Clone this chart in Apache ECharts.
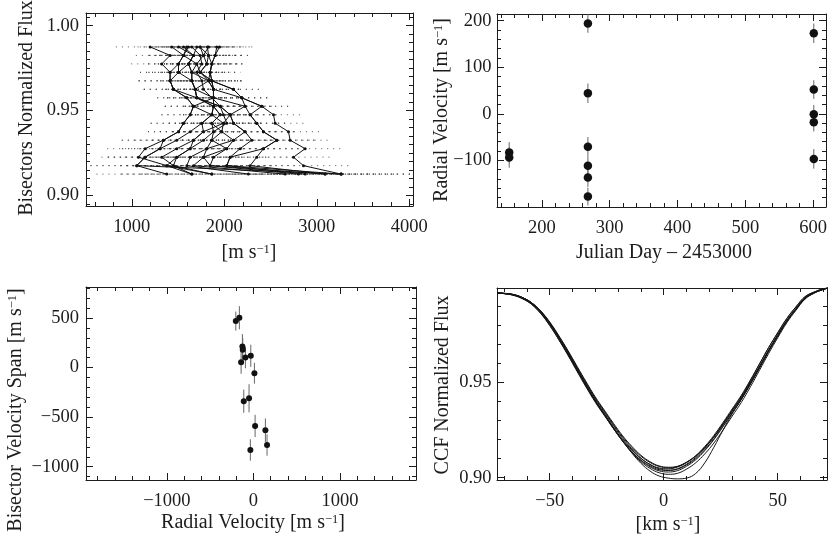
<!DOCTYPE html>
<html><head><meta charset="utf-8">
<script src="https://cdn.jsdelivr.net/npm/echarts@6/dist/echarts.min.js"></script>
<style>html,body{margin:0;padding:0;background:#fff}#c{width:830px;height:544px}</style>
</head><body><div id="c"></div>
<script>
// ---------------- DATA ----------------
// Panel 1: line bisectors (flux levels, top -> bottom) and velocity positions [m/s]
const bisFlux = [0.9875,0.9825,0.9775,0.9725,0.9675,0.9625,0.9575,0.9525,0.9475,0.9425,0.9375,0.9325,0.9275,0.9225,0.9175,0.9125];
const bisErr  = [370,370,330,325,340,320,320,310,310,355,330,450,410,400,500,760];
const bis01 = [1948,1901,1865,1847,1865,2099,2189,2405,2532,2550,2694,2712,2874,2748,2856,3263];
const bis02 = [1818,1829,1811,1739,1829,1883,1883,2225,2279,2351,2423,2568,2423,2351,2279,3090];
const bis03 = [1739,1775,1703,1649,1649,1685,1703,1955,2063,2099,2225,2297,2171,2063,2027,2874];
const bis04 = [1703,1667,1613,1505,1414,1450,1595,1667,1865,1991,1973,2099,2027,1883,1847,2802];
const bis05 = [1595,1559,1505,1414,1414,1450,1703,1883,1955,1865,1883,1865,1811,1775,1667,2658];
const bis06 = [1919,1901,1865,1847,1829,1883,1883,1883,1865,1757,1631,1486,1306,1144,1054,1378];
const bis07 = [1829,1775,1811,1739,1865,1883,1883,1667,1631,1559,1505,1342,1144,1072,1378,1649];
const bis08 = [1505,1667,1613,1649,1829,1685,1703,1955,2063,1991,1775,1667,1486,1324,1450,1865];
const bis09 = [1432,1559,1703,1739,1865,2099,2189,2225,2063,2099,2225,2099,1811,1631,1595,2261];
const bis10 = [1198,1414,1324,1414,1414,1450,1595,1667,1631,1559,1505,1342,1306,1144,1054,3263];
const bis11 = [1739,1829,1865,1847,1865,1883,2189,2405,2279,2351,2423,2568,2423,2063,2027,3263];
const bis12 = [1559,1667,1613,1649,1649,1685,1883,1883,1955,1865,1973,1865,2027,1775,1847,3090];
const bis13 = [1613,1559,1505,1505,1649,1685,1703,1883,1865,1757,1775,1667,1631,1486,1378,1865];
const bis14 = [1649,1739,1757,1703,1757,1775,1865,1955,1991,2027,1883,1775,1631,1486,1450,1649];

// Panel 2: radial velocities
const rvDay = [152,152,268,268,268,268,268,268,601,601,601,601,601];
const rvVal = [-83,-94,194,44,-71,-112,-137,-178,173,52,-1,-18,-97];
const rvErr = [22,22,20,21,21,20,20,19,21,20,20,20,21];

// Panel 3: bisector velocity span vs radial velocity
const bvsRv  = [-203,-162,-127,-123,-92,-142,-30,12,-111,-50,20,139,158,-35];
const bvsVal = [468,502,212,179,101,54,118,-57,-340,-310,-589,-633,-781,-831];
const bvsErr = [96,117,125,117,108,117,112,105,117,142,112,120,108,108];

// Panel 4: cross-correlation functions
const ccfVel = [-73,-70,-66,-62,-58,-54,-50,-46,-42,-38,-34,-30,-26,-22,-18,-14,-10,-6,-2,2,6,10,14,18,22,26,30,34,38,42,46,50,54,58,62,66,70,72];
const ccf01 = [0.9970,0.9967,0.9960,0.9943,0.9915,0.9869,0.9807,0.9732,0.9651,0.9566,0.9481,0.9401,0.9330,0.9259,0.9193,0.9137,0.9090,0.9057,0.9036,0.9030,0.9037,0.9060,0.9094,0.9142,0.9200,0.9268,0.9340,0.9412,0.9494,0.9580,0.9667,0.9748,0.9825,0.9888,0.9944,0.9972,0.9990,0.9996];
const ccf02 = [0.9970,0.9967,0.9958,0.9941,0.9911,0.9864,0.9801,0.9726,0.9646,0.9563,0.9479,0.9402,0.9333,0.9263,0.9199,0.9146,0.9101,0.9070,0.9051,0.9047,0.9056,0.9080,0.9115,0.9164,0.9222,0.9290,0.9361,0.9432,0.9513,0.9598,0.9683,0.9762,0.9837,0.9897,0.9951,0.9975,0.9992,0.9996];
const ccf03 = [0.9970,0.9968,0.9962,0.9946,0.9919,0.9874,0.9813,0.9739,0.9657,0.9571,0.9485,0.9403,0.9331,0.9258,0.9191,0.9133,0.9084,0.9049,0.9026,0.9018,0.9023,0.9045,0.9078,0.9125,0.9182,0.9250,0.9323,0.9395,0.9477,0.9564,0.9652,0.9735,0.9814,0.9879,0.9938,0.9969,0.9988,0.9995];
const ccf04 = [0.9970,0.9968,0.9962,0.9946,0.9919,0.9876,0.9818,0.9746,0.9668,0.9585,0.9503,0.9424,0.9354,0.9285,0.9220,0.9165,0.9118,0.9084,0.9062,0.9055,0.9060,0.9082,0.9114,0.9159,0.9214,0.9279,0.9350,0.9419,0.9498,0.9582,0.9667,0.9746,0.9822,0.9885,0.9941,0.9970,0.9989,0.9995];
const ccf05 = [0.9970,0.9966,0.9958,0.9940,0.9911,0.9863,0.9799,0.9724,0.9643,0.9558,0.9475,0.9396,0.9326,0.9257,0.9193,0.9138,0.9093,0.9062,0.9042,0.9038,0.9047,0.9071,0.9106,0.9155,0.9214,0.9283,0.9355,0.9427,0.9509,0.9596,0.9683,0.9760,0.9835,0.9897,0.9950,0.9975,0.9992,0.9996];
const ccf06 = [0.9970,0.9967,0.9961,0.9945,0.9918,0.9874,0.9814,0.9742,0.9663,0.9580,0.9497,0.9418,0.9349,0.9279,0.9214,0.9159,0.9113,0.9080,0.9059,0.9052,0.9058,0.9080,0.9113,0.9159,0.9215,0.9281,0.9351,0.9421,0.9501,0.9585,0.9670,0.9750,0.9825,0.9887,0.9943,0.9972,0.9990,0.9996];
const ccf07 = [0.9970,0.9967,0.9960,0.9943,0.9915,0.9869,0.9808,0.9734,0.9654,0.9570,0.9487,0.9408,0.9336,0.9263,0.9193,0.9130,0.9076,0.9035,0.9009,0.8998,0.8994,0.8998,0.9022,0.9078,0.9160,0.9250,0.9335,0.9410,0.9492,0.9578,0.9665,0.9747,0.9824,0.9887,0.9943,0.9972,0.9990,0.9996];
const ccf08 = [0.9970,0.9968,0.9962,0.9946,0.9919,0.9876,0.9815,0.9742,0.9663,0.9579,0.9495,0.9415,0.9344,0.9273,0.9207,0.9151,0.9103,0.9069,0.9047,0.9040,0.9045,0.9067,0.9100,0.9147,0.9204,0.9271,0.9340,0.9411,0.9491,0.9575,0.9662,0.9743,0.9821,0.9883,0.9940,0.9970,0.9989,0.9995];

// Tick labels (major ticks)
const tlXTicks = [1000,2000,3000,4000];
const tlYTicks = [0.90,0.95,1.00];
const trXTicks = [200,300,400,500,600];
const trYTicks = [-100,0,100,200];
const blXTicks = [-1000,0,1000];
const blYTicks = [-1000,-500,0,500];
const brXTicks = [-50,0,50];
const brYTicks = [0.90,0.95];

// ---------------- CHART ----------------
const FONT = '"Liberation Serif","Times New Roman",serif';
const INK = '#1c1c1c';
function steps(a, b, s, skip) {
  const r = [];
  const n = Math.round((b - a) / s);
  for (let i = 0; i <= n; i++) {
    const v = +(a + i * s).toFixed(6);
    if (!skip.some(m => Math.abs(m - v) < 1e-9)) r.push(v);
  }
  return r;
}
const minus = s => String(s).replace('-', '\u2212');
function axisSet(kind, gi, min, max, majors, minors, fmt, margin) {
  const pos = kind === 'x' ? ['bottom', 'top'] : ['left', 'right'];
  const out = [];
  pos.forEach((p, k) => {
    const base = {type: 'value', gridIndex: gi, min: min, max: max, position: p,
      splitLine: {show: false}, axisPointer: {show: false}};
    out.push(Object.assign({}, base, {
      axisLine: {show: true, onZero: false, lineStyle: {color: INK, width: 1}},
      axisTick: {show: true, inside: true, length: 7, customValues: majors, lineStyle: {color: INK, width: 1}},
      axisLabel: k === 0 ? {show: true, customValues: majors, formatter: fmt, margin: margin,
        color: INK, fontFamily: FONT, fontSize: 18.5, showMinLabel: true, showMaxLabel: true} : {show: false}
    }));
    out.push(Object.assign({}, base, {
      axisLine: {show: false, onZero: false},
      axisTick: {show: true, inside: true, length: 4, customValues: minors, lineStyle: {color: INK, width: 1}},
      axisLabel: {show: false}
    }));
  });
  return out;
}
const fmtInt = v => minus(Math.round(v));
const fmt2 = v => v.toFixed(2);

const xAxes = [].concat(
  axisSet('x', 0, 505, 4040, tlXTicks, steps(600, 4000, 200, tlXTicks), fmtInt, 12),
  axisSet('x', 1, 134, 619, trXTicks, steps(140, 600, 20, trXTicks), fmtInt, 12),
  axisSet('x', 2, -1935, 1880, blXTicks, steps(-1800, 1800, 200, blXTicks), fmtInt, 12),
  axisSet('x', 3, -73.1, 71.6, brXTicks, steps(-70, 70, 10, brXTicks), fmtInt, 12)
);
const yAxes = [].concat(
  axisSet('y', 0, 0.8937, 1.0075, tlYTicks, steps(0.895, 1.005, 0.005, tlYTicks), fmt2, 7),
  axisSet('y', 1, -200.4, 214.4, trYTicks, steps(-200, 200, 20, trYTicks), fmtInt, 5.5),
  axisSet('y', 2, -1134, 812, blYTicks, steps(-1100, 800, 100, blYTicks), fmtInt, 7),
  axisSet('y', 3, 0.8988, 0.9996, brYTicks, steps(0.90, 0.99, 0.01, brYTicks), fmt2, 5.5)
);

const series = [];
// Panel 1: horizontal dotted error bars
const hErr = [];
const bisectors = [bis01,bis02,bis03,bis04,bis05,bis06,bis07,bis08,bis09,bis10,bis11,bis12,bis13,bis14];
bisectors.forEach(b => b.forEach((v, i) => hErr.push([v, bisFlux[i], bisErr[i]])));
series.push({
  type: 'custom', xAxisIndex: 0, yAxisIndex: 0, clip: true, silent: true, z: 1,
  encode: {x: 0, y: 1},
  data: hErr,
  renderItem: (params, api) => {
    const x = api.value(0), y = api.value(1), e = api.value(2);
    const a = api.coord([x - e, y]), b = api.coord([x + e, y]);
    return {type: 'line', shape: {x1: a[0], y1: a[1], x2: b[0], y2: b[1]},
      style: {stroke: '#444', lineWidth: 1, lineDash: [1, 5], opacity: 0.9}};
  }
});
bisectors.forEach(b => series.push({
  type: 'line', xAxisIndex: 0, yAxisIndex: 0, z: 3, silent: true,
  data: b.map((v, i) => [v, bisFlux[i]]),
  symbol: 'circle', symbolSize: 3, showSymbol: true,
  lineStyle: {color: '#111', width: 1}, itemStyle: {color: '#111', opacity: 1}
}));

// vertical error bars helper
function vErrSeries(xi, data) {
  return {
    type: 'custom', xAxisIndex: xi, yAxisIndex: xi, clip: true, silent: true, z: 1,
    encode: {x: 0, y: 1}, data: data,
    renderItem: (params, api) => {
      const x = api.value(0), y = api.value(1), e = api.value(2);
      const a = api.coord([x, y - e]), b = api.coord([x, y + e]);
      return {type: 'line', shape: {x1: a[0], y1: a[1], x2: b[0], y2: b[1]},
        style: {stroke: '#666', lineWidth: 1}};
    }
  };
}
// Panel 2
series.push(vErrSeries(4, rvDay.map((d, i) => [d, rvVal[i], rvErr[i]])));
series.push({type: 'scatter', xAxisIndex: 4, yAxisIndex: 4, z: 3, silent: true,
  data: rvDay.map((d, i) => [d, rvVal[i]]), symbol: 'circle', symbolSize: 8.5,
  itemStyle: {color: '#111', opacity: 1}});
// Panel 3
series.push(vErrSeries(8, bvsRv.map((d, i) => [d, bvsVal[i], bvsErr[i]])));
series.push({type: 'scatter', xAxisIndex: 8, yAxisIndex: 8, z: 3, silent: true,
  data: bvsRv.map((d, i) => [d, bvsVal[i]]), symbol: 'circle', symbolSize: 6,
  itemStyle: {color: '#111', opacity: 1}});
// Panel 4
[ccf01,ccf02,ccf03,ccf04,ccf05,ccf06,ccf07,ccf08].forEach(c => series.push({
  type: 'line', xAxisIndex: 12, yAxisIndex: 12, z: 3, silent: true,
  data: c.map((v, i) => [ccfVel[i], v]), showSymbol: false, smooth: 0.4,
  lineStyle: {color: '#161616', width: 1}
}));

function title(text, x, y, rot) {
  return {type: 'text', x: x, y: y, rotation: rot ? Math.PI / 2 : 0, silent: true,
    style: {text: text, fill: INK, font: '20px ' + FONT, fontFamily: FONT, fontSize: 20,
      align: 'center', verticalAlign: 'middle', textAlign: 'center', textVerticalAlign: 'middle',
      rich: {sup: {fontSize: 12.5, fontFamily: FONT, fill: INK, color: INK, verticalAlign: 'top', padding: [0, 0, 7, 0]}}}};
}

const option = {
  animation: false,
  backgroundColor: '#ffffff',
  grid: [
    {left: 86, top: 13, width: 327, height: 193},
    {left: 497, top: 14, width: 329, height: 193},
    {left: 86, top: 287, width: 330, height: 193},
    {left: 497, top: 288, width: 330, height: 192}
  ],
  xAxis: xAxes,
  yAxis: yAxes,
  series: series,
  graphic: [
    title('Bisectors Normalized Flux', 27, 108, true),
    title('[m s{sup|\u22121}]', 249, 253, false),
    title('Radial Velocity [m s{sup|\u22121}]', 442, 110, true),
    title('Julian Day \u2013 2453000', 664, 253, false),
    title('Bisector Velocity Span [m s{sup|\u22121}]', 16, 410, true),
    title('Radial Velocity [m s{sup|\u22121}]', 253, 523, false),
    title('CCF Normalized Flux', 443, 385, true),
    title('[km s{sup|\u22121}]', 668, 525, false)
  ]
};
echarts.init(document.getElementById('c'), null, {renderer: 'canvas'}).setOption(option);
</script>
</body></html>
